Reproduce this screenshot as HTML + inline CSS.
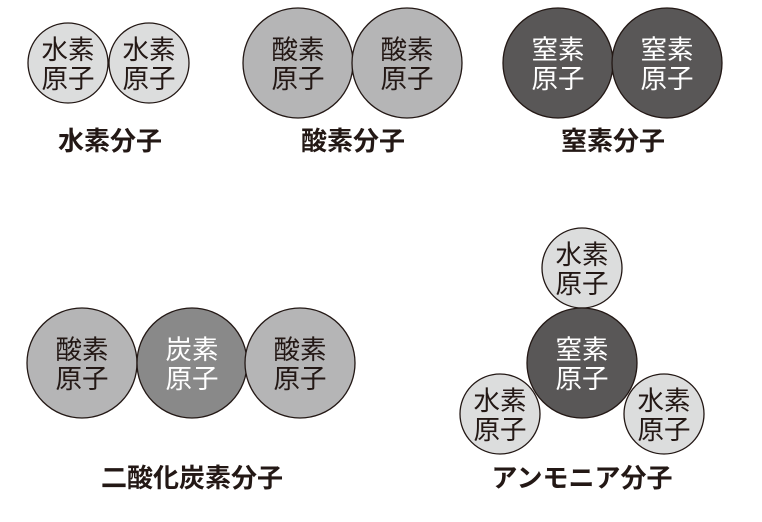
<!DOCTYPE html>
<html><head><meta charset="utf-8"><style>
html,body{margin:0;padding:0;background:#fff;}
text{font-family:"Liberation Sans","Noto Sans CJK JP",sans-serif;}
</style></head><body>
<svg width="762" height="517" xmlns="http://www.w3.org/2000/svg">
<g stroke="#231815" stroke-width="1.3">
<circle cx="68" cy="63" r="40" fill="#dcdddd"/>
<circle cx="149" cy="63" r="40" fill="#dcdddd"/>
<circle cx="298" cy="63" r="55" fill="#b5b5b6"/>
<circle cx="407" cy="63" r="55" fill="#b5b5b6"/>
<circle cx="558" cy="63" r="55" fill="#595757"/>
<circle cx="667" cy="63" r="55" fill="#595757"/>
<circle cx="82" cy="363" r="55" fill="#b5b5b6"/>
<circle cx="192" cy="363" r="55" fill="#898989"/>
<circle cx="300" cy="363" r="55" fill="#b5b5b6"/>
<circle cx="582" cy="268" r="40" fill="#dcdddd"/>
<circle cx="582" cy="363" r="55" fill="#595757"/>
<circle cx="500" cy="414" r="40" fill="#dcdddd"/>
<circle cx="664" cy="414" r="40" fill="#dcdddd"/>
</g>
<g font-size="26.5" text-anchor="middle" fill="#231815">
<text x="68" y="59">水素</text><text x="68" y="88">原子</text>
<text x="149" y="59">水素</text><text x="149" y="88">原子</text>
<text x="298" y="59">酸素</text><text x="298" y="88">原子</text>
<text x="407" y="59">酸素</text><text x="407" y="88">原子</text>
<text x="82" y="359">酸素</text><text x="82" y="388">原子</text>
<text x="300" y="359">酸素</text><text x="300" y="388">原子</text>
<text x="582" y="264">水素</text><text x="582" y="293">原子</text>
<text x="500" y="410">水素</text><text x="500" y="439">原子</text>
<text x="664" y="410">水素</text><text x="664" y="439">原子</text>
</g>
<g font-size="26.5" text-anchor="middle" fill="#fff">
<text x="558" y="59">窒素</text><text x="558" y="88">原子</text>
<text x="667" y="59">窒素</text><text x="667" y="88">原子</text>
<text x="192" y="359">炭素</text><text x="192" y="388">原子</text>
<text x="582" y="359">窒素</text><text x="582" y="388">原子</text>
</g>
<g font-size="26" font-weight="bold" text-anchor="middle" fill="#231815">
<text x="110" y="150">水素分子</text>
<text x="353" y="150">酸素分子</text>
<text x="613" y="150">窒素分子</text>
<text x="192" y="487">二酸化炭素分子</text>
<text x="582" y="487">アンモニア分子</text>
</g>
</svg>
</body></html>
